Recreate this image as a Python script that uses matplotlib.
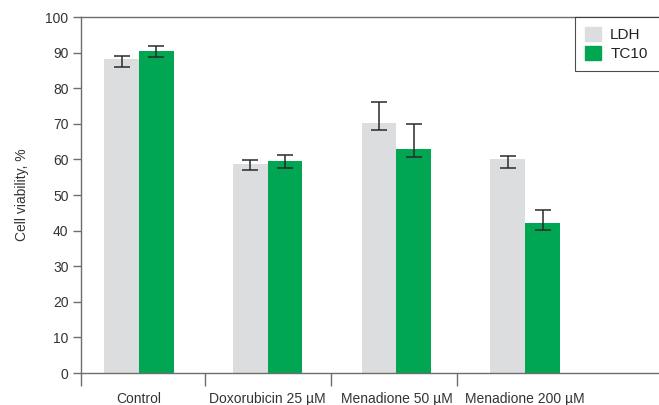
import numpy as np
import matplotlib.pyplot as plt
from matplotlib.patches import Patch

plt.rcParams['font.family'] = ['Liberation Sans', 'DejaVu Sans']
plt.rcParams['font.size'] = 10

groups = ['Control', 'Doxorubicin 25 µM', 'Menadione 50 µM', 'Menadione 200 µM']
ldh = [88.2, 58.8, 70.2, 60.1]
tc10 = [90.4, 59.5, 62.9, 42.1]
# lower / upper error extents
ldh_err = [[2.2, 1.9, 1.9, 2.6], [0.8, 0.9, 5.8, 0.8]]
tc10_err = [[1.7, 1.9, 2.1, 2.0], [1.5, 1.7, 7.0, 3.8]]

c_ldh = '#dcdddf'
c_tc10 = '#00a651'
c_axis = '#6d6e70'
c_text = '#333333'

fig = plt.figure(figsize=(6.59, 4.05), dpi=100)
ax = fig.add_axes([0.123, 0.079, 0.877, 0.879])

x = np.arange(len(groups))
w = 0.27
ax.bar(x - w / 2, ldh, w, color=c_ldh)
ax.bar(x + w / 2, tc10, w, color=c_tc10)
ax.errorbar(x - w / 2, ldh, yerr=ldh_err, fmt='none', ecolor='#2a2a2a',
            elinewidth=1.1, capsize=5.5, capthick=1.1)
ax.errorbar(x + w / 2, tc10, yerr=tc10_err, fmt='none', ecolor='#2a2a2a',
            elinewidth=1.1, capsize=5.5, capthick=1.1)

ax.set_xlim(-0.45, 4.04)
ax.set_ylim(0, 100)
ax.set_yticks(np.arange(0, 101, 10))
ax.set_xticks(x)
ax.set_xticklabels(groups, color=c_text)
ax.tick_params(axis='x', length=0, pad=14)
ax.set_xticks([-0.45, 0.51, 1.49, 2.47], minor=True)
ax.tick_params(axis='x', which='minor', length=9, width=1, color=c_axis)
ax.tick_params(axis='y', length=6, width=1, color=c_axis, labelcolor=c_text, pad=3)
ax.set_ylabel('Cell viability, %', color=c_text, labelpad=12)

for side in ['left', 'bottom', 'top']:
    ax.spines[side].set_color(c_axis)
    ax.spines[side].set_linewidth(1)
ax.spines['right'].set_visible(False)

# legend box runs past the right edge of the figure
handles = [Patch(color=c_ldh, label='LDH'), Patch(color=c_tc10, label='TC10')]
leg = fig.legend(handles=handles, loc='upper left',
                 bbox_to_anchor=(575 / 659, 0.959, 0.16, 0), mode='expand',
                 frameon=True, fancybox=False, handlelength=1.05, handleheight=1.05,
                 handletextpad=0.6, borderpad=0.65, labelspacing=0.26, fontsize=11,
                 borderaxespad=0)
leg.get_frame().set_edgecolor('#222222')
leg.get_frame().set_linewidth(0.8)
for t in leg.get_texts():
    t.set_color('#222222')

fig.savefig('out.png', dpi=100)
